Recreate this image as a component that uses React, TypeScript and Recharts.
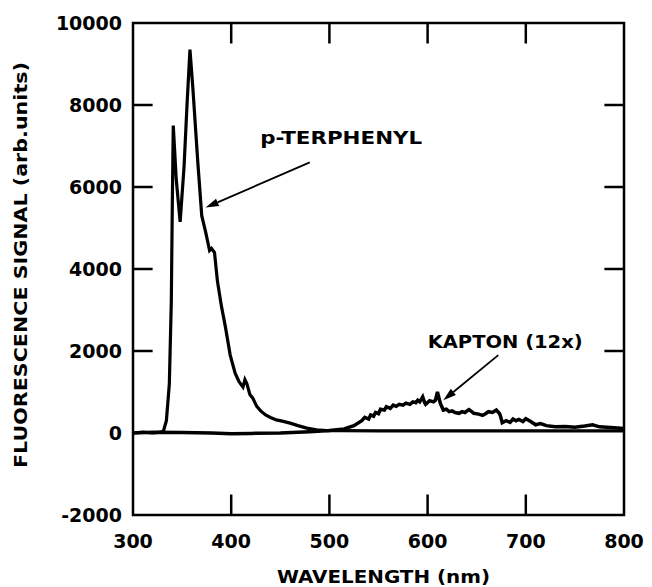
import {
  Label,
  Line,
  LineChart,
  ReferenceArea,
  ReferenceDot,
  ReferenceLine,
  XAxis,
  YAxis,
} from "recharts";

// p-terphenyl emission spectrum
const terphenylWavelength = [
  300, 310, 320, 328, 331, 334, 337, 339, 340, 341, 344, 348, 352, 355, 358, 361,
  366, 370, 374, 378, 380, 383, 386, 390, 394, 399, 404, 408, 412, 414, 416, 419,
  422, 426, 430, 435, 440, 446, 452, 460, 468, 477, 487, 497, 510, 550, 600, 650,
  700, 750, 800,
];
const terphenylSignal = [
  0, 20, 0, 20, 50, 300, 1200, 3200, 5500, 7500, 6200, 5150, 6500, 8000, 9350, 8400,
  6600, 5300, 4900, 4450, 4500, 4400, 3700, 3100, 2600, 1900, 1460, 1250, 1120, 1300,
  1200, 940, 850, 650, 540, 440, 380, 320, 290, 240, 180, 120, 80, 60, 60, 50, 50, 50,
  50, 50, 50,
];

// Kapton emission (scaled 12x)
const kaptonWavelength = [
  300, 320, 350, 380, 400, 420, 450, 480, 500, 515, 525, 533, 536, 540, 542, 545,
  547, 550, 552, 556, 558, 562, 565, 568, 571, 575, 578, 582, 585, 588, 590, 592,
  595, 597, 598, 602, 606, 608, 610, 613, 616, 619, 622, 625, 628, 632, 635, 638,
  642, 645, 647, 652, 656, 659, 662, 666, 670, 673, 674, 676, 680, 684, 687, 690,
  693, 697, 700, 705, 710, 715, 721, 730, 740, 750, 760, 768, 775, 790, 800,
];
const kaptonSignal = [
  0, 20, 10, 0, -20, -10, 0, 30, 60, 100, 180, 300, 380, 340, 440, 410,
  500, 470, 580, 560, 640, 600, 680, 650, 700, 680, 730, 700, 760, 740, 800, 760,
  880, 740, 700, 790, 760, 800, 1000, 720, 560, 580, 520, 540, 500, 480, 520, 500,
  570, 520, 480, 460, 430, 470, 520, 500, 560, 480, 430, 250, 300, 260, 340, 300,
  330, 280, 350, 280, 200, 230, 180, 150, 160, 140, 170, 200, 150, 130, 110,
];

const xTicks = [300, 400, 500, 600, 700, 800];
const yTicks = [-2000, 0, 2000, 4000, 6000, 8000, 10000];
const innerXTicks = [400, 500, 600, 700];
const innerYTicks = [2000, 4000, 6000, 8000];

const terphenyl = terphenylWavelength.map((x, i) => ({ x, y: terphenylSignal[i] }));
const kapton = kaptonWavelength.map((x, i) => ({ x, y: kaptonSignal[i] }));

const font = "'DejaVu Sans', sans-serif";
const tickStyle = { fill: "#000", fontSize: 19, fontWeight: "bold", fontFamily: font };
const labelStyle = { fontSize: 18, fontWeight: "bold", fontFamily: font, fill: "#000" };

function arrowShape(props: any) {
  const { x1, y1, x2, y2 } = props;
  const ang = Math.atan2(y2 - y1, x2 - x1);
  const len = 13;
  const w = 4;
  const bx = x2 - len * Math.cos(ang);
  const by = y2 - len * Math.sin(ang);
  const px = -Math.sin(ang) * w;
  const py = Math.cos(ang) * w;
  return (
    <g>
      <line x1={x1} y1={y1} x2={bx} y2={by} stroke="#000" strokeWidth={1.8} />
      <polygon
        points={`${x2},${y2} ${bx + px},${by + py} ${bx - px},${by - py}`}
        fill="#000"
      />
    </g>
  );
}

// centred annotation text stretched to the width it has in the original
const annotation = (text: string, len: number) => (props: any) => {
  const { viewBox } = props;
  const cx = viewBox.x + (viewBox.width || 0) / 2;
  const cy = viewBox.y + (viewBox.height || 0) / 2;
  return (
    <text
      x={cx}
      y={cy}
      textAnchor="middle"
      dominantBaseline="central"
      textLength={len}
      lengthAdjust="spacingAndGlyphs"
      style={labelStyle}
    >
      {text}
    </text>
  );
};

export default function App() {
  return (
    <div style={{ width: 644, height: 579 }}>
      <LineChart
        width={644}
        height={579}
        margin={{ top: 15, right: 28, left: 0, bottom: 0 }}
      >
        <XAxis
          dataKey="x"
          type="number"
          domain={[300, 800]}
          ticks={xTicks}
          allowDataOverflow
          axisLine={false}
          tickLine={false}
          tickSize={0}
          tickMargin={20}
          height={72}
          tick={tickStyle}
        >
          <Label
            content={({ viewBox }: any) => (
              <text
                x={viewBox.x + viewBox.width / 2 + 5}
                y={viewBox.y + 61}
                textAnchor="middle"
                dominantBaseline="central"
                textLength={213}
                lengthAdjust="spacingAndGlyphs"
                style={labelStyle}
              >
                WAVELENGTH (nm)
              </text>
            )}
          />
        </XAxis>
        <YAxis
          type="number"
          domain={[-2000, 10000]}
          ticks={yTicks}
          allowDataOverflow
          axisLine={false}
          tickLine={false}
          tickSize={0}
          tickMargin={11}
          width={125}
          tick={tickStyle}
        >
          <Label
            content={({ viewBox }: any) => {
              const cx = viewBox.x + 12;
              const cy = viewBox.y + viewBox.height / 2 - 4;
              return (
                <text
                  x={cx}
                  y={cy}
                  transform={`rotate(-90 ${cx} ${cy})`}
                  textAnchor="middle"
                  dominantBaseline="central"
                  textLength={406}
                  lengthAdjust="spacingAndGlyphs"
                  style={labelStyle}
                >
                  FLUORESCENCE SIGNAL (arb.units)
                </text>
              );
            }}
          />
        </YAxis>

        <ReferenceArea
          x1={300}
          x2={800}
          y1={-2000}
          y2={10000}
          fill="none"
          fillOpacity={0}
          stroke="#000"
          strokeWidth={2.5}
        />

        {innerXTicks.map((t) => (
          <ReferenceLine
            key={`b${t}`}
            segment={[{ x: t, y: -2000 }, { x: t, y: -1500 }]}
            stroke="#000"
            strokeWidth={2.5}
          />
        ))}
        {innerXTicks.map((t) => (
          <ReferenceLine
            key={`t${t}`}
            segment={[{ x: t, y: 10000 }, { x: t, y: 9500 }]}
            stroke="#000"
            strokeWidth={2.5}
          />
        ))}
        {innerYTicks.map((t) => (
          <ReferenceLine
            key={`l${t}`}
            segment={[{ x: 300, y: t }, { x: 320, y: t }]}
            stroke="#000"
            strokeWidth={2.5}
          />
        ))}
        {innerYTicks.map((t) => (
          <ReferenceLine
            key={`r${t}`}
            segment={[{ x: 780, y: t }, { x: 800, y: t }]}
            stroke="#000"
            strokeWidth={2.5}
          />
        ))}

        <Line
          data={terphenyl}
          dataKey="y"
          type="linear"
          stroke="#000"
          strokeWidth={3.2}
          dot={false}
          isAnimationActive={false}
        />
        <Line
          data={kapton}
          dataKey="y"
          type="linear"
          stroke="#000"
          strokeWidth={3.5}
          dot={false}
          isAnimationActive={false}
        />

        <ReferenceLine
          segment={[{ x: 480, y: 6600 }, { x: 374, y: 5500 }]}
          shape={arrowShape}
        />
        <ReferenceLine
          segment={[{ x: 672, y: 1900 }, { x: 616, y: 800 }]}
          shape={arrowShape}
        />

        <ReferenceDot
          x={512}
          y={7200}
          r={0}
          fill="none"
          stroke="none"
          label={{ content: annotation("p-TERPHENYL", 162) }}
        />
        <ReferenceDot
          x={679}
          y={2220}
          r={0}
          fill="none"
          stroke="none"
          label={{ content: annotation("KAPTON (12x)", 155) }}
        />
      </LineChart>
    </div>
  );
}
